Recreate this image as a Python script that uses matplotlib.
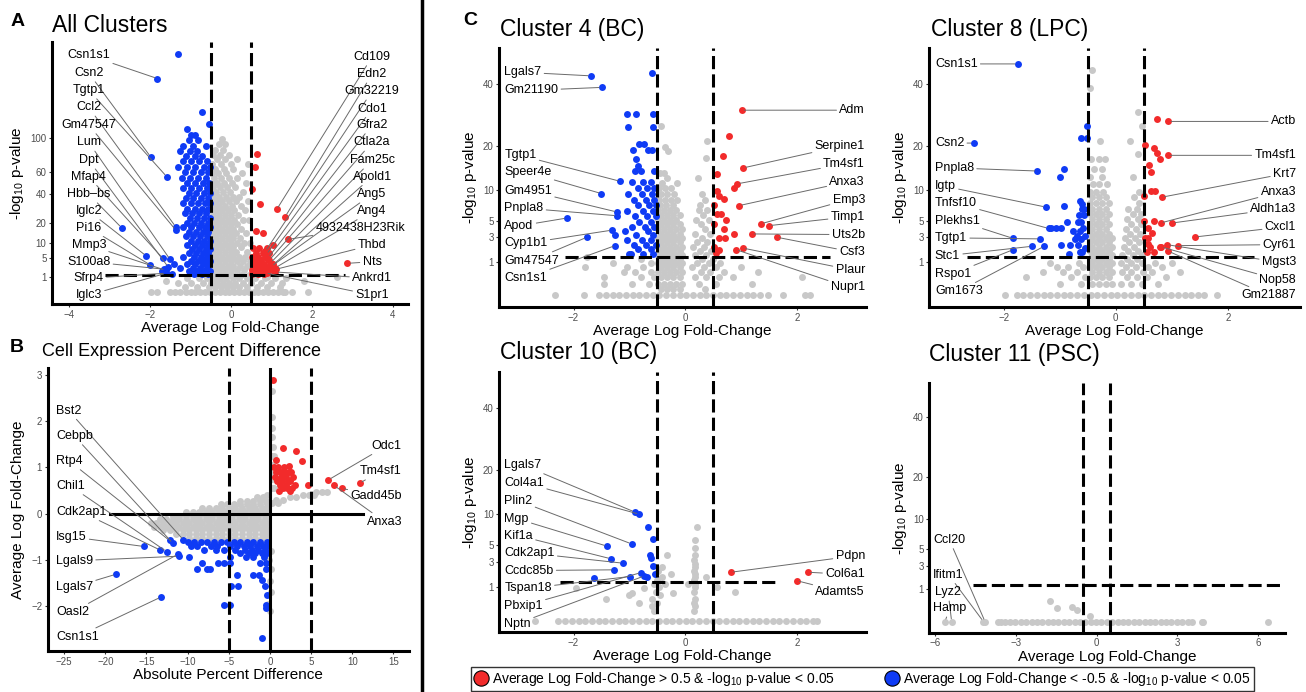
import numpy as np
import matplotlib
matplotlib.use('Agg')
import matplotlib.pyplot as plt
from matplotlib.lines import Line2D

plt.rcParams['font.family'] = ['Liberation Sans', 'DejaVu Sans']
plt.rcParams['mathtext.fontset'] = 'custom'
plt.rcParams['mathtext.rm'] = 'Liberation Sans'
plt.rcParams['mathtext.default'] = 'regular'

RED = '#F22B2B'
BLUE = '#0F3BF5'
GREY = '#C8C8C8'

# ---------------- data (rows are: y value, list of x values) ----------------
# A: all clusters
a_grey = [
    (98, [-0.23]), (92, [-0.30, -0.15]), (85, [-0.40, -0.20]), (79, [-0.45, -0.28, -0.05]),
    (74, [-0.35, -0.15, 0.14]), (69, [-0.48, -0.25, 0.0, 0.43]), (64, [-0.40, -0.18, 0.05]),
    (59, [-0.48, -0.32, -0.12, 0.28]), (55, [-0.42, -0.25, -0.05, 0.15]),
    (50, [-0.48, -0.35, -0.18, 0.02, 0.38]), (46, [-0.44, -0.28, -0.10, 0.10]),
    (42, [-0.50, -0.36, -0.20, -0.02, 0.30]), (38, [-0.45, -0.30, -0.12, 0.05, 0.20]),
    (35, [-0.48, -0.38, -0.22, -0.05, 0.12, 0.42]), (31, [-0.44, -0.30, -0.15, 0.02, 0.25]),
    (28, [-0.50, -0.36, -0.22, -0.08, 0.08, 0.35]), (25, [-0.45, -0.30, -0.15, 0.00, 0.18]),
    (22, [-0.48, -0.36, -0.22, -0.08, 0.08, 0.30, 0.45]), (19.4, [-0.44, -0.30, -0.15, 0.00, 0.15]),
    (16.8, [-0.50, -0.36, -0.22, -0.08, 0.06, 0.25]), (14.4, [-0.45, -0.30, -0.15, 0.00, 0.12, 0.38]),
    (12.3, [-0.48, -0.36, -0.22, -0.08, 0.06, 0.22]), (10.2, [-0.44, -0.30, -0.15, 0.00, 0.15, 0.32, 0.46]),
    (8.4, [-0.50, -0.36, -0.22, -0.08, 0.06, 0.24]), (6.8, [-0.45, -0.30, -0.15, 0.00, 0.12, 0.40]),
    (5.3, [-0.48, -0.36, -0.22, -0.08, 0.06, 0.20, 0.35]), (4.0, [-0.44, -0.30, -0.15, 0.00, 0.14, 0.30, 0.46]),
    (2.9, [-0.50, -0.36, -0.22, -0.08, 0.06, 0.22, 0.40]), (2.0, [-0.45, -0.30, -0.15, 0.00, 0.14, 0.32]),
    (1.3, [-0.48, -0.36, -0.22, -0.08, 0.06, 0.24, 0.45]),
    (0.95, [0.9, 2.62]),
    (0.8, [-1.1, -0.8, -0.6, -0.42, -0.28, -0.12, 0.05, 0.2, 0.4, 0.6, 0.85, 1.1, 1.35]),
    (0.5, [-1.6, 1.8]),
    (0.36, [-1.3, -1.0, -0.7, -0.5, -0.35, -0.2, -0.05, 0.1, 0.3, 0.5, 0.75, 1.0, 1.25]),
    (0.09, [-1.15, -0.85, -0.55, -0.4, -0.25, -0.1, 0.05, 0.2, 0.4, 0.65, 0.9, 1.2]),
    (0, [-1.99, -1.84, -1.51, -1.38, -1.25, -1.12, -1.0, -0.88, -0.76, -0.64, -0.52, -0.4, -0.28,
         -0.16, -0.04, 0.08, 0.2, 0.32, 0.44, 0.56, 0.68, 0.8, 0.92, 1.04, 1.16, 1.28, 1.34, 1.50, 1.91]),
]
a_blue = [
    (238, [-1.30]), (136, [-0.73]), (118, [-0.54]), (112, [-1.10]), (104, [-0.98, -0.90]),
    (97, [-1.05, -0.82]), (90, [-1.18, -0.95, -0.62]), (84, [-1.25, -1.02, -0.85]),
    (78, [-1.12, -0.90, -0.72]), (72, [-1.20, -1.00, -0.80, -0.60]), (66, [-1.30, -1.08, -0.88, -0.66, -0.52]),
    (60, [-1.15, -0.95, -0.75, -0.58]), (55, [-1.22, -1.02, -0.82, -0.62]), (50, [-1.10, -0.90, -0.70, -0.54]),
    (45, [-1.18, -0.98, -0.78, -0.60]), (41, [-1.05, -0.86, -0.68, -0.52]), (37, [-1.12, -0.94, -0.74, -0.58]),
    (33, [-1.20, -1.00, -0.82, -0.64, -0.52]), (29, [-1.08, -0.90, -0.72, -0.56]),
    (26, [-1.15, -0.96, -0.78, -0.62]), (23, [-1.02, -0.84, -0.68, -0.53]), (20, [-1.10, -0.92, -0.74, -0.58]),
    (17.5, [-1.18, -0.98, -0.80, -0.64, -0.52]), (15, [-1.05, -0.86, -0.70, -0.56]),
    (13, [-1.12, -0.94, -0.76, -0.60]), (11, [-1.00, -0.82, -0.66, -0.53]), (9.3, [-1.08, -0.90, -0.72, -0.58]),
    (7.8, [-0.96, -0.78, -0.63, -0.52]), (6.4, [-1.04, -0.86, -0.70, -0.56]), (5.2, [-1.20, -0.92, -0.75, -0.60]),
    (4.1, [-1.00, -0.82, -0.66, -0.53]), (3.2, [-1.40, -1.08, -0.88, -0.70, -0.56]),
    (2.4, [-1.25, -0.95, -0.76, -0.60]), (1.8, [-1.72, -1.05, -0.85, -0.66, -0.53]),
    (1.45, [-1.45, -0.92, -0.72, -0.57]),
]
a_red = [
    (80.4, [0.64]), (65.8, [0.59]), (44.5, [0.53]), (32.5, [0.72]), (15.6, [0.62]), (14.4, [0.80]),
    (9.3, [1.05]), (8.0, [0.55, 0.70, 0.88]), (6.5, [0.62, 0.78, 0.95]), (5.2, [0.53, 0.68, 0.85]),
    (4.2, [0.60, 0.75, 0.92]), (3.3, [0.55, 0.70, 0.82, 1.00]), (2.6, [0.62, 0.78, 0.92]),
    (2.0, [0.53, 0.68, 0.85, 1.02]), (1.6, [0.58, 0.75, 0.90]), (1.4, [0.52, 0.66, 0.82]),
]
a_genes_left = [('Csn1s1', -1.82, 191), ('Csn2', -1.99, 76.7), ('Tgtp1', -1.59, 55.8), ('Ccl2', -1.37, 17.9),
                ('Gm47547', -1.37, 16.2), ('Lum', -1.51, 4.5), ('Dpt', -1.55, 2.6), ('Mfap4', -1.69, 4.8),
                ('Hbb\u2013bs', -2.71, 17.4), ('Iglc2', -2.10, 5.5), ('Pi16', -2.0, 3.1), ('Mmp3', -1.62, 2.0),
                ('S100a8', -1.65, 2.2), ('Sfrp4', -1.62, 1.5), ('Iglc3', -1.60, 1.5)]
a_genes_right = [('Cd109', 1.13, 28.6), ('Edn2', 1.34, 23.8), ('Gm32219', 0.85, 7.0), ('Cdo1', 0.88, 6.0),
                 ('Gfra2', 0.92, 5.0), ('Ctla2a', 0.95, 4.3), ('Fam25c', 0.98, 3.6), ('Apold1', 1.05, 3.2),
                 ('Ang5', 1.0, 2.8), ('Ang4', 1.1, 2.5), ('4932438H23Rik', 1.40, 11.6), ('Thbd', 1.12, 2.2),
                 ('Nts', 2.88, 3.47), ('Ankrd1', 1.10, 1.7), ('S1pr1', 0.85, 1.55)]

# B: cell expression percent difference (x = percent difference, y = log fold-change)
b_grey = [
    (2.65, [0.25]), (2.1, [0.3]), (1.85, [0.25]), (1.65, [0.3]), (1.45, [0.35]), (1.25, [0.3, 0.45]),
    (1.05, [0.25]), (0.9, [0.4]), (0.75, [0.2]), (0.55, [0.2, 0.5]),
    (0.46, [5.6, 6.3, 6.9]), (0.4, [-0.3, 4.0, 4.8, 5.4]), (0.35, [-1.6, -0.9, 2.4, 3.2]),
    (0.3, [0.8, 1.6]), (0.28, [-3.6, -2.8, -2.0, -1.2, -0.5]), (0.24, [0.3, 1.0]),
    (0.2, [-6.0, -5.2, -4.4, -3.6, -2.8, -2.0, -1.2, -0.4]),
    (0.12, [-8.2, -7.4, -6.6, -5.8, -5.0, -4.2, -3.4, -2.6, -1.8, -1.0, -0.3]),
    (0.04, [-10.2, -9.4, -8.6, -7.8, -7.0, -6.2, -5.4, -4.6, -3.8, -3.0, -2.2, -1.4, -0.6]),
    (-0.04, [-11.8, -11.0, -10.2, -9.4, -8.6, -7.8, -7.0, -6.2, -5.4, -4.6, -3.8, -3.0, -2.2, -1.4, -0.6]),
    (-0.12, [-13.4, -12.6, -11.8, -11.0, -10.2, -9.4, -8.6, -7.8, -7.0, -6.2, -5.4, -4.6, -3.8, -3.0, -2.2, -1.4, -0.6]),
    (-0.2, [-14.5, -13.8, -13.0, -12.2, -11.4, -10.6, -9.8, -9.0, -8.2, -7.4, -6.6, -5.8, -5.0, -4.2, -3.4,
            -2.6, -1.8, -1.0, -0.3]),
    (-0.28, [-14.1, -13.4, -12.6, -11.8, -11.0, -10.2, -9.4, -8.6, -7.8, -7.0, -6.2, -5.4, -4.6, -3.8, -3.0,
             -2.2, -1.4, -0.6]),
    (-0.36, [-13.0, -12.2, -11.4, -10.6, -9.8, -9.0, -8.2, -7.4, -6.6, -5.8, -5.0, -4.2, -3.4, -2.6, -1.8,
             -1.0, -0.3]),
    (-0.44, [-11.4, -10.6, -9.8, -9.0, -8.2, -7.4, -6.6, -5.8, -5.0, -4.2, -3.4, -2.6, -1.8, -1.0, -0.3]),
    (-0.52, [-9.8, -9.0, -8.2, -7.4, -6.6, -5.8, -5.0, -4.2, -3.4, -2.6, -1.8, -1.0, -0.3]),
    (-0.8, [0.1]), (-1.0, [-0.1]), (-1.2, [0.15]), (-1.45, [-0.05]), (-1.7, [0.1]), (-1.95, [-0.2]),
    (-2.1, [0.05]),
]
b_blue = [
    (-0.62, [-10.0, -9.2, -8.4, -7.6, -6.8, -6.0, -5.2, -4.4, -3.6, -2.8, -2.0, -1.2, -0.4]),
    (-0.7, [-9.6, -8.8, -7.2, -6.4, -4.8, -4.0, -3.2, -2.4, -1.6, -0.8, -0.3]),
    (-0.78, [-8.0, -6.6, -5.6, -4.2, -3.0, -2.2, -1.4, -0.6]),
    (-0.86, [-3.6, -2.6, -1.8, -1.0, -0.4]),
    (-0.94, [-9.8, -4.8, -2.9, -2.0, -0.7]),
    (-1.07, [-8.3, -6.3, -4.9, -5.6, -1.2, -0.5]),
    (-1.2, [-8.8, -7.6, -7.3, -0.45]),
    (-1.32, [-4.0, -2.0, -1.3]), (-1.44, [-0.95]), (-1.57, [-3.9, -4.7, -0.6]), (-1.75, [-0.4]),
    (-1.98, [-4.86, -5.6, -0.5]), (-2.05, [-0.45]), (-2.68, [-0.93]),
]
b_red = [
    (2.88, [0.4]), (1.41, [1.62]), (1.36, [3.16]), (1.14, [3.85]), (1.15, [0.7]), (1.04, [2.35]),
    (1.0, [0.5, 1.0, 1.7]), (0.9, [0.8, 1.4, 1.8, 2.3, 2.6]), (0.8, [0.6, 1.3, 2.0, 2.8]),
    (0.7, [0.9, 1.5, 2.2, 2.5]), (0.62, [1.2, 1.9, 3.0, 4.6]), (0.55, [1.6, 2.1, 2.7]), (0.5, [1.1, 2.4]),
]
b_genes_left = [('Bst2', -10.5, -0.57), ('Cebpb', -11.8, -0.64), ('Rtp4', -12.2, -0.58), ('Chil1', -12.55, -0.82),
                ('Cdk2ap1', -13.3, -0.79), ('Isg15', -15.3, -0.71), ('Lgals9', -11.1, -0.92),
                ('Lgals7', -18.7, -1.31), ('Oasl2', -11.2, -0.88), ('Csn1s1', -13.2, -1.80)]
b_genes_right = [('Odc1', 7.1, 0.73), ('Tm4sf1', 10.9, 0.66), ('Gadd45b', 8.7, 0.55), ('Anxa3', 7.8, 0.61)]

# C: Cluster 4 (BC)
c4_grey = [
    (25.5, [-0.44]), (21.2, [0.40]), (19.6, [-0.37]), (18.7, [-0.30]), (16.8, [0.38]),
    (13.4, [-0.45, -0.38]), (12.3, [0.23, -0.32]), (11.2, [-0.14, -0.42]),
    (10.3, [-0.46, -0.36, -0.26]), (9.2, [-0.44, -0.33, -0.20, 0.30]),
    (8.2, [-0.47, -0.37, -0.26, -0.15, 0.36]), (7.3, [-0.45, -0.34, -0.22, 0.27]),
    (6.5, [-0.48, -0.38, -0.27, -0.16, 0.24, 0.40]), (5.8, [-0.44, -0.33, -0.22, -0.10, 0.32]),
    (5.1, [-0.48, -0.38, -0.27, -0.16, 0.20, 0.42]), (4.5, [-0.44, -0.33, -0.22, -0.10, 0.28]),
    (3.9, [-0.48, -0.38, -0.27, -0.16, -0.05, 0.36]), (3.4, [-0.44, -0.33, -0.22, -0.10, 0.18, 0.44]),
    (2.9, [-0.48, -0.38, -0.27, -0.16, -0.05, 0.30]), (2.5, [-0.44, -0.33, -0.22, -0.10, 0.22, 0.40]),
    (2.1, [-0.48, -0.38, -0.27, -0.16, -0.05, 0.14, 0.34]), (1.75, [-0.44, -0.33, -0.22, -0.10, 0.26, 0.46]),
    (1.45, [-0.48, -0.38, -0.27, -0.16, -0.05, 0.18, 0.38]), (1.3, [-1.76]),
    (1.2, [-0.80, -0.44, -0.33, -0.22, -0.10, 0.30, 0.50]),
    (0.95, [-1.30, -0.62, -0.48, -0.38, -0.27, -0.16, -0.05, 0.22, 0.42, 0.62]),
    (0.72, [-1.80, -1.05, -0.75, -0.44, -0.33, -0.22, -0.10, 0.12, 0.34, 0.55, 1.00]),
    (0.5, [-1.10, -0.90, -0.62, -0.48, -0.38, -0.27, -0.16, -0.05, 0.28, 0.45, 0.70, 1.30]),
    (0.3, [-1.45, -0.80, -0.55, -0.44, -0.33, -0.22, -0.10, 0.18, 0.38, 0.60, 0.85, 2.09]),
    (0.12, [-1.46, -0.95, -0.65, -0.48, -0.38, -0.27, -0.16, -0.05, 0.25, 0.55, 1.20]),
    (0.04, [-0.44, -0.33, -0.22, -0.10, 0.35]),
    (0, [-2.33, -1.82, -1.55, -1.42, -1.30, -1.18, -1.06, -0.94, -0.82, -0.70, -0.58, -0.46, -0.34, -0.22,
         -0.10, 0.02, 0.14, 0.26, 0.38, 0.50, 0.62, 0.74, 0.86, 0.98, 1.10, 1.22, 1.34, 1.49, 1.76, 2.15, 2.24]),
]
c4_blue = [
    (44.1, [-0.59]), (29.5, [-1.04, -0.88, -0.57]), (25.3, [-1.03, -0.58]), (20.4, [-0.82, -0.73]),
    (18.9, [-0.94, -0.66, -0.60]), (16.5, [-0.88]), (15.0, [-0.84]), (13.8, [-0.90, -0.80, -0.55]),
    (11.5, [-0.95, -0.75, -0.62]), (10.3, [-0.85, -0.68, -0.55]), (9.2, [-1.02, -0.78, -0.60]),
    (8.2, [-0.92, -0.70, -0.55]), (7.3, [-0.85, -0.64, -0.52]), (6.4, [-1.05, -0.76, -0.58]),
    (5.6, [-0.90, -0.68, -0.53]), (4.8, [-0.82, -0.62]), (4.2, [-0.96, -0.72, -0.55]),
    (3.75, [-1.07, -0.66]), (3.3, [-1.25, -0.88, -0.58]), (2.7, [-1.04, -0.78, -0.62]),
    (2.3, [-0.92, -0.70, -0.53]), (1.9, [-0.85, -0.62]), (1.55, [-1.00, -0.97, -0.75, -0.58]),
]
c4_red = [
    (22.6, [0.79]), (17.4, [0.67]), (13.2, [0.57]), (10.3, [0.87]), (9.8, [0.57]), (8.8, [0.60]),
    (8.3, [0.70]), (7.3, [0.51]), (5.9, [0.57, 0.64]), (5.1, [0.73]), (4.5, [0.51]), (3.9, [0.69]),
    (3.4, [0.88]), (2.95, [0.61, 0.72]), (2.1, [0.52]), (1.82, [0.60]), (1.6, [0.55]),
]
c4_genes_left = [('Lgals7', -1.69, 43.0), ('Gm21190', -1.49, 38.6), ('Tgtp1', -1.16, 11.6), ('Speer4e', -1.50, 9.25),
                 ('Gm4951', -1.22, 6.2), ('Pnpla8', -1.22, 5.66), ('Apod', -2.12, 5.34), ('Cyp1b1', -1.31, 3.8),
                 ('Gm47547', -1.76, 3.02), ('Csn1s1', -1.25, 2.22)]
c4_genes_right = [('Adm', 1.01, 30.6), ('Serpine1', 1.04, 14.5), ('Tm4sf1', 0.93, 11.1), ('Anxa3', 0.97, 7.2),
                  ('Emp3', 1.36, 4.58), ('Timp1', 1.50, 4.34), ('Uts2b', 1.19, 3.37), ('Csf3', 1.64, 3.02),
                  ('Plaur', 1.03, 2.0), ('Nupr1', 0.91, 1.87)]

# C: Cluster 8 (LPC)
c8_grey = [
    (45.2, [-0.43]), (38.3, [-0.46]), (30.0, [0.40]), (25.5, [0.46]), (21.2, [-0.29, 0.26]), (17.8, [0.40]),
    (16.6, [-0.45, -0.30, -0.20]), (14.2, [-0.38, -0.25]), (12.6, [-0.46, -0.24, 0.30]),
    (11.0, [-0.40, -0.30, -0.15]), (9.6, [-0.46, -0.35, -0.22, 0.42]), (8.6, [-0.42, -0.30, -0.18, 0.32]),
    (7.6, [-0.46, -0.36, -0.24, -0.12, 0.42]), (6.7, [-0.42, -0.30, -0.18, 0.22, 0.38]),
    (5.9, [-0.46, -0.36, -0.24, -0.12, 0.30, 0.45]), (5.2, [-0.42, -0.30, -0.18, 0.20, 0.40]),
    (4.5, [-0.46, -0.36, -0.24, -0.12, 0.28, 0.45]), (3.9, [-0.42, -0.30, -0.18, 0.18, 0.36]),
    (3.4, [-0.46, -0.36, -0.24, -0.12, 0.26, 0.44]), (2.9, [-0.42, -0.30, -0.18, -0.06, 0.16, 0.34]),
    (2.5, [-0.46, -0.36, -0.24, -0.12, 0.24, 0.42]), (2.1, [-0.42, -0.30, -0.18, -0.06, 0.14, 0.32]),
    (1.75, [-0.46, -0.36, -0.24, -0.12, 0.22, 0.40]), (1.45, [-0.42, -0.30, -0.18, -0.06, 0.12, 0.30, 0.46]),
    (1.2, [-0.46, -0.36, -0.24, -0.12, 0.20, 0.38]),
    (0.95, [-1.17, -0.65, -0.42, -0.30, -0.18, -0.06, 0.10, 0.28, 0.46, 0.70, 1.00]),
    (0.72, [-1.05, -0.85, -0.58, -0.46, -0.36, -0.24, -0.12, 0.18, 0.36, 0.58, 0.82]),
    (0.5, [-1.30, -0.95, -0.70, -0.42, -0.30, -0.18, -0.06, 0.12, 0.28, 0.48, 0.65, 1.15]),
    (0.3, [-1.60, -0.80, -0.55, -0.46, -0.36, -0.24, -0.12, 0.20, 0.38, 0.55, 0.90]),
    (0.12, [-1.0, -0.62, -0.42, -0.30, -0.18, -0.06, 0.10, 0.28, 0.46, 0.75]),
    (0, [-1.98, -1.77, -1.65, -1.53, -1.41, -1.29, -1.17, -1.05, -0.93, -0.81, -0.69, -0.57, -0.45, -0.33,
         -0.21, -0.09, 0.03, 0.15, 0.27, 0.39, 0.51, 0.63, 0.75, 0.87, 0.99, 1.11, 1.23, 1.35, 1.47, 1.57, 1.80]),
]
c8_blue = [
    (25.7, [-0.51]), (22.2, [-0.62, -0.51]), (14.3, [-0.92]), (12.5, [-1.00]), (7.9, [-0.64]), (7.4, [-0.61]),
    (7.1, [-0.92]), (6.6, [-0.61, -0.56]), (5.7, [-0.66, -0.57]), (4.8, [-0.875, -0.67, -0.62]),
    (4.05, [-1.15, -1.07, -0.98, -0.58]), (3.7, [-0.77, -0.64]), (3.2, [-0.70, -0.55]), (2.8, [-0.72, -0.62]),
    (2.25, [-0.98, -0.81, -0.68]), (2.0, [-0.55]), (1.7, [-0.61, -0.63]), (1.56, [-0.83]),
]
c8_red = [
    (27.9, [0.73]), (20.1, [0.52]), (19.4, [0.69]), (18.1, [0.74]), (16.6, [0.79]), (15.2, [0.60]),
    (13.6, [0.63]), (9.7, [0.63, 0.70]), (8.8, [0.51]), (5.0, [0.51, 0.69]), (4.1, [0.58]), (3.5, [0.64]),
    (2.9, [0.58, 0.52]), (2.4, [0.57]), (2.1, [0.62, 0.79]), (1.66, [0.68, 0.55]),
]
c8_genes_left = [('Csn1s1', -1.75, 47.8), ('Csn2', -2.54, 20.7), ('Pnpla8', -1.40, 13.8), ('Igtp', -1.25, 6.96),
                 ('Tnfsf10', -1.20, 4.0), ('Plekhs1', -1.84, 2.91), ('Tgtp1', -1.35, 2.85), ('Stc1', -1.50, 2.15),
                 ('Rspo1', -1.83, 1.87), ('Gm1673', -1.28, 2.15)]
c8_genes_right = [('Actb', 0.94, 27.0), ('Tm4sf1', 0.93, 17.5), ('Krt7', 0.82, 8.6), ('Anxa3', 0.80, 4.68),
                  ('Aldh1a3', 1.01, 4.68), ('Cxcl1', 1.42, 3.05), ('Cyr61', 1.12, 2.21), ('Mgst3', 0.91, 2.30),
                  ('Nop58', 0.81, 2.1), ('Gm21887', 0.94, 1.74)]

# C: Cluster 10 (BC)
c10_grey = [
    (7.8, [0.21]), (5.7, [0.17]), (4.6, [0.17]), (3.84, [-0.32, 0.17]), (3.3, [0.16]), (2.8, [0.18]),
    (2.5, [-0.42, 0.17]), (2.2, [-0.48, 0.16]), (1.9, [-0.26, 0.18]), (1.7, [-0.42, 0.17, 0.37]),
    (1.45, [-0.50, 0.16]), (1.2, [-0.55, -0.36, 0.05, 0.18]), (1.0, [-0.47, 0.17, 0.57]),
    (0.94, [-1.95, -0.73]), (0.72, [-0.52, 0.16, 0.90]), (0.67, [-0.95, -0.21]), (0.6, [-1.0, -0.45]),
    (0.41, [-1.42, -0.60, 0.17]), (0.27, [-0.83, -0.50, 0.15]), (0.18, [-0.60, 0.17]), (0.08, [-0.55, 0.16]),
    (0, [-2.69, -2.27, -2.15, -2.03, -1.91, -1.79, -1.67, -1.55, -1.43, -1.31, -1.19, -1.07, -0.95, -0.83,
         -0.71, -0.59, -0.47, -0.35, -0.23, -0.11, 0.01, 0.13, 0.25, 0.37, 0.49, 0.61, 0.73, 0.85, 0.97, 1.09,
         1.21, 1.33, 1.45, 1.57, 1.69, 1.81, 1.93, 2.05, 2.17, 2.29, 2.36]),
]
c10_blue = [
    (7.7, [-0.66]), (5.94, [-0.58]), (3.83, [-0.63]), (3.42, [-0.61]), (2.6, [-0.57]), (1.9, [-0.54]),
    (1.66, [-0.69]), (1.59, [-1.64]),
]
c10_red = []
c10_genes_left = [('Lgals7', -0.90, 10.4), ('Col4a1', -0.82, 10.0), ('Plin2', -0.96, 5.2), ('Mgp', -1.40, 4.9),
                  ('Kif1a', -1.33, 3.38), ('Cdk2ap1', -1.12, 2.92), ('Ccdc85b', -1.27, 2.28),
                  ('Tspan18', -0.99, 1.72), ('Pbxip1', -0.79, 2.04), ('Nptn', -0.73, 1.77)]
c10_genes_right = [('Pdpn', 0.82, 2.07), ('Col6a1', 2.20, 2.07), ('Adamts5', 2.0, 1.41)]

# C: Cluster 11 (PSC)
c11_grey = [
    (0.41, [-1.73]), (0.19, [-0.90]), (0.17, [-1.49]), (0.13, [-0.72]), (0.03, [-0.25]),
    (0, [-3.66, -3.55, -3.41, -3.22, -3.02, -2.82, -2.62, -2.42, -2.22, -2.02, -1.82, -1.62, -1.42, -1.22,
         -1.02, -0.82, -0.62, -0.42, -0.22, -0.02, 0.18, 0.38, 0.58, 0.78, 0.98, 1.18, 1.38, 1.58, 1.78, 1.98,
         2.18, 2.38, 2.58, 2.78, 2.98, 3.18, 3.38, 3.53, 3.90, 3.97, 6.38]),
]
c11_genes = [('Ccl20', -4.15, 0), ('Ifitm1', -4.21, 0), ('Lyz2', -5.39, 0), ('Hamp', -5.64, 0)]

# ---------------- label placement (x, y, ha) ----------------
a_pos_left = [(-3.52, y, 'center') for y in [235, 201, 171, 143, 117, 93.9, 72.9, 55.8, 40.2, 27.6, 17.4, 9.3, 3.88, 0.80, -0.036]]
a_pos_right = [(3.49, 231.6, 'center'), (3.49, 198.8, 'center'), (3.49, 169, 'center'), (3.49, 141, 'center'),
               (3.49, 117, 'center'), (3.49, 93.9, 'center'), (3.49, 72.9, 'center'), (3.49, 55.8, 'center'),
               (3.49, 40.2, 'center'), (3.49, 27.6, 'center'), (3.20, 17.4, 'center'), (3.49, 9.3, 'center'),
               (3.49, 3.88, 'center'), (3.49, 0.80, 'center'), (3.49, -0.036, 'center')]
b_pos_left = [(-26.0, y, 'left') for y in [2.23, 1.68, 1.14, 0.60, 0.04, -0.50, -1.02, -1.58, -2.13, -2.66]]
b_pos_right = [(14.2, 1.47, 'center'), (13.5, 0.92, 'center'), (12.9, 0.38, 'center'), (13.9, -0.17, 'center')]
c4_pos_left = [(-3.24, y, 'left') for y in [44.4, 37.5, 17.5, 13.5, 9.8, 6.8, 4.3, 2.42, 1.08, 0.27]]
c4_pos_right = [(3.22, y, 'right') for y in [30.6, 19.8, 15.4, 11.5, 8.2, 5.5, 3.3, 1.69, 0.59, 0.06]]
c8_pos_left = [(-3.23, y, 'left') for y in [47.8, 20.7, 14.5, 10.6, 7.6, 5.0, 2.95, 1.41, 0.42, 0.015]]
c8_pos_right = [(3.22, y, 'right') for y in [27.0, 17.5, 13.2, 9.5, 6.6, 4.14, 2.3, 0.98, 0.22, 0.0]]
c10_pos_left = [(-3.24, y, 'left') for y in [21.4, 16.8, 12.7, 9.2, 6.38, 4.04, 2.22, 0.92, 0.195, -0.0076]]
c10_pos_right = [(3.22, y, 'right') for y in [3.64, 1.9, 0.74]]
c11_pos = [(-6.07, 6.4, 'left'), (-6.07, 2.1, 'left'), (-6.0, 0.82, 'left'), (-6.07, 0.17, 'left')]

W, H = 1306, 692
fig = plt.figure(figsize=(W / 100, H / 100), dpi=100)
DOT = 25


def px_axes(left, top, right, bottom):
    return fig.add_axes([left / W, 1 - bottom / H, (right - left) / W, (bottom - top) / H])


def ftext(x, y, s, **kw):
    fig.text(x / W, 1 - y / H, s, va='baseline', **kw)


def flat(rows):
    xs, ys = [], []
    for y, row in rows:
        for x in row:
            xs.append(x)
            ys.append(y)
    return xs, ys


def fwd(v):
    v = np.asarray(v, dtype=float)
    return np.sign(v) * np.sqrt(np.abs(v))


def inv(v):
    v = np.asarray(v, dtype=float)
    return np.sign(v) * v ** 2


def style(ax):
    for s in ['top', 'right']:
        ax.spines[s].set_visible(False)
    for s in ['left', 'bottom']:
        ax.spines[s].set_linewidth(2.2)
    ax.tick_params(length=2.5, width=0.8, color='#333333', labelsize=7, labelcolor='#4D4D4D', pad=1.5)


def dots(ax, rows, color):
    xs, ys = flat(rows)
    ax.scatter(xs, ys, s=DOT, color=color, linewidths=0, zorder=2, clip_on=False)


def genes(ax, gl, pos, color):
    for (name, x, y), (tx, ty, ha) in zip(gl, pos):
        ax.scatter([x], [y], s=DOT, color=color, linewidths=0, zorder=2.5)
        ax.annotate(name, xy=(x, y), xytext=(tx, ty), ha=ha, va='center', fontsize=9, zorder=5,
                    annotation_clip=False,
                    arrowprops=dict(arrowstyle='-', color='#6A6A6A', lw=0.7, shrinkA=0, shrinkB=2))


DASH = dict(color='black', lw=2.2, dashes=(4.3, 1.7), zorder=4)


def volcano(ax, grey, blue, red, xlim, ylim, xticks, yticks, hspan):
    style(ax)
    ax.set_yscale('function', functions=(fwd, inv))
    dots(ax, grey, GREY)
    dots(ax, blue, BLUE)
    dots(ax, red, RED)
    ax.axvline(-0.5, **DASH)
    ax.axvline(0.5, **DASH)
    ax.plot(hspan, [1.3, 1.3], **DASH)
    ax.set_xlim(*xlim)
    ax.set_ylim(*ylim)
    ax.set_xticks(xticks)
    ax.set_yticks(yticks)
    ax.set_yticklabels([str(t) for t in yticks])
    ax.set_xlabel('Average Log Fold-Change', fontsize=11, labelpad=1)
    ax.set_ylabel(r'-log$_{10}$ p-value', fontsize=11, labelpad=3)


# ---- A ----
ax = px_axes(52, 42, 408, 304)
volcano(ax, a_grey, a_blue, a_red, (-4.43, 4.38), (-0.59, 262), [-4, -2, 0, 2, 4],
        [1, 5, 10, 20, 40, 60, 100], [-3.12, 2.82])
genes(ax, a_genes_left, a_pos_left, BLUE)
genes(ax, a_genes_right, a_pos_right, RED)

# ---- B ----
ax = px_axes(47.7, 368, 409, 651)
style(ax)
dots(ax, b_grey, GREY)
dots(ax, b_blue, BLUE)
dots(ax, b_red, RED)
ax.axvline(-5, **DASH)
ax.axvline(5, **DASH)
ax.axvline(0, color='black', lw=2.2, zorder=4)
ax.plot([-19.4, 11.3], [0, 0], color='black', lw=2.2, zorder=4)
ax.set_xlim(-27.0, 16.9)
ax.set_ylim(-2.97, 3.15)
ax.set_xticks([-25, -20, -15, -10, -5, 0, 5, 10, 15])
ax.set_yticks([-2, -1, 0, 1, 2, 3])
ax.set_xlabel('Absolute Percent Difference', fontsize=11, labelpad=1)
ax.set_ylabel('Average Log Fold-Change', fontsize=11, labelpad=4)
genes(ax, b_genes_left, b_pos_left, BLUE)
genes(ax, b_genes_right, b_pos_right, RED)

# ---- C panels ----
CY = (-0.12, 54.6)
CT = [1, 3, 5, 10, 20, 40]
ax = px_axes(499.3, 48, 866, 307)
volcano(ax, c4_grey, c4_blue, c4_red, (-3.33, 3.24), CY, [-2, 0, 2], CT, [-2.15, 2.6])
genes(ax, c4_genes_left, c4_pos_left, BLUE)
genes(ax, c4_genes_right, c4_pos_right, RED)

ax = px_axes(929.3, 48, 1300, 307)
volcano(ax, c8_grey, c8_blue, c8_red, (-3.33, 3.29), CY, [-2, 0, 2], CT, [-2.66, 2.46])
genes(ax, c8_genes_left, c8_pos_left, BLUE)
genes(ax, c8_genes_right, c8_pos_right, RED)

ax = px_axes(499.3, 372, 866, 632.3)
volcano(ax, c10_grey, c10_blue, c10_red, (-3.33, 3.24), CY, [-2, 0, 2], CT, [-2.24, 1.67])
genes(ax, c10_genes_left, c10_pos_left, BLUE)
genes(ax, c10_genes_right, c10_pos_right, RED)

ax = px_axes(929.3, 383, 1285, 632.7)
volcano(ax, c11_grey, [], [], (-6.22, 7.0), CY, [-6, -3, 0, 3, 6], CT, [-4.58, 6.94])
genes(ax, c11_genes, c11_pos, GREY)

# ---- titles and panel letters ----
ftext(52, 32, 'All Clusters', fontsize=16.5)
ftext(42, 356, 'Cell Expression Percent Difference', fontsize=13)
ftext(500, 36, 'Cluster 4 (BC)', fontsize=16.5)
ftext(931, 36, 'Cluster 8 (LPC)', fontsize=16.5)
ftext(500, 359, 'Cluster 10 (BC)', fontsize=16.5)
ftext(929, 361, 'Cluster 11 (PSC)', fontsize=16.5)
ftext(11, 26, 'A', fontsize=14, fontweight='bold')
ftext(10, 352, 'B', fontsize=14, fontweight='bold')
ftext(463, 25, 'C', fontsize=14, fontweight='bold')

fig.add_artist(Line2D([422 / W, 422 / W], [0, 1], transform=fig.transFigure, color='black', lw=2.5))

# ---- legend ----
handles = [Line2D([], [], marker='o', ls='', markersize=11, markerfacecolor=RED, markeredgecolor='black',
                  markeredgewidth=0.8),
           Line2D([], [], marker='o', ls='', markersize=11, markerfacecolor=BLUE, markeredgecolor='black',
                  markeredgewidth=0.8)]
labels = [r'Average Log Fold-Change > 0.5 & -log$_{10}$ p-value < 0.05',
          r'Average Log Fold-Change < -0.5 & -log$_{10}$ p-value < 0.05']
leg = fig.legend(handles, labels, loc='center', bbox_to_anchor=(862.5 / W, 1 - 679 / H), ncol=2, fontsize=10,
                 frameon=True, fancybox=False, edgecolor='black', handletextpad=0.3, columnspacing=3.6,
                 borderpad=0.25, handlelength=1.0, borderaxespad=0)
leg.get_frame().set_linewidth(1.0)

fig.savefig('out.png', dpi=100)
